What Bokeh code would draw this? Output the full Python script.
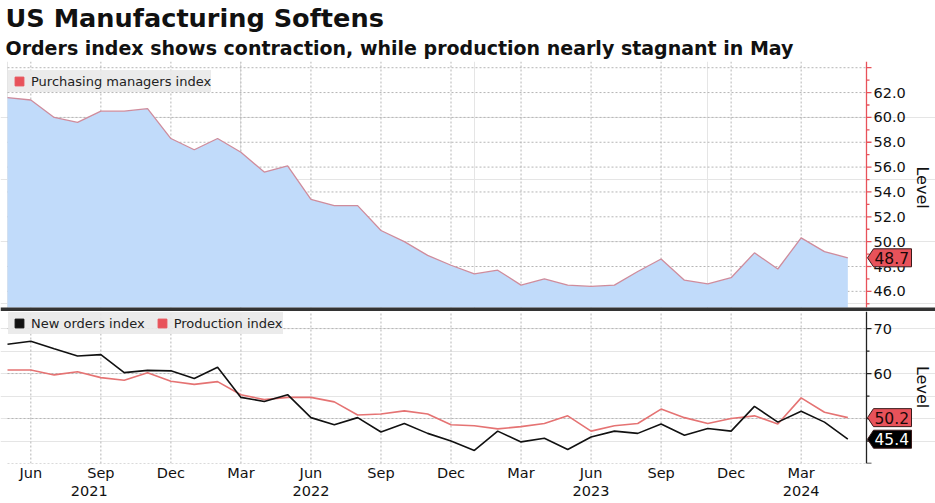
import math
from bokeh.plotting import figure
from bokeh.models import Range1d, FixedTicker, LinearAxis, Legend, LegendItem, Title
from bokeh.core.properties import value
from bokeh.layouts import column
from bokeh.embed import file_html
from bokeh.resources import INLINE

# ---------------- data (monthly, May 2021 .. May 2024) ----------------
months = list(range(37))
pmi = [61.6, 61.4, 60.0, 59.6, 60.5, 60.5, 60.7, 58.3, 57.4, 58.3, 57.2, 55.6, 56.1,
       53.4, 52.9, 52.9, 50.9, 50.0, 48.9, 48.1, 47.4, 47.7, 46.5, 47.0, 46.5, 46.4,
       46.5, 47.6, 48.6, 46.9, 46.6, 47.1, 49.1, 47.8, 50.3, 49.2, 48.7]
new_orders = [66.5, 67.2, 65.5, 63.9, 64.2, 60.2, 60.7, 60.6, 58.9, 61.4, 54.7, 53.8, 55.3,
              50.2, 48.6, 50.2, 47.0, 48.9, 46.7, 45.0, 42.9, 47.2, 44.8, 45.6, 43.1, 45.9,
              47.2, 46.7, 48.8, 46.3, 47.8, 47.2, 52.7, 49.2, 51.6, 49.2, 45.4]
production = [60.8, 60.8, 59.7, 60.4, 59.1, 58.5, 60.2, 58.3, 57.6, 58.2, 55.3, 54.2, 54.7,
              54.7, 53.7, 50.8, 51.0, 51.7, 51.0, 48.6, 48.4, 47.7, 48.2, 48.9, 50.6, 47.2,
              48.4, 48.9, 52.1, 50.2, 48.9, 50.0, 50.6, 48.8, 54.6, 51.4, 50.2]

month_ticks = [1, 4, 7, 10, 13, 16, 19, 22, 25, 28, 31, 34]
month_labels = ["Jun", "Sep", "Dec", "Mar", "Jun", "Sep", "Dec", "Mar", "Jun", "Sep", "Dec", "Mar"]
year_pos = [3.5, 13, 25, 34]
year_labels = ["2021", "2022", "2023", "2024"]

top_ticks = [46, 48, 50, 52, 54, 56, 58, 60, 62, 64]
top_labels = ["46.0", "48.0", "50.0", "52.0", "54.0", "56.0", "58.0", "60.0", "62.0", ""]
top_minor = [45, 47, 49, 51, 53, 55, 57, 59, 61, 63]
bot_ticks = [40, 50, 60, 70]
bot_labels = ["", "50", "60", "70"]
bot_minor = [45, 55, 65]

title_text = "US Manufacturing Softens"
subtitle_text = "Orders index shows contraction, while production nearly stagnant in May"

# ---------------- styles / geometry ----------------
FONT = "DejaVu Sans"
RED = "#e8525a"
AREA = "#c1dbfa"
AREA_LINE = "#cf8c9c"
PROD = "#e57373"
GRID = "#b5b5b5"
SEPC = "#333333"
W = 935            # page / frame width
LB = 7             # left blank strip (pixels)
DW = 859           # data area width (pixels)
XEND = 36.8        # data x at right edge of data area
UX = XEND / DW     # data units per pixel
XR = Range1d(-LB * UX, (W - LB) * UX)
TOP_H, BOT_H = 250, 152
SEP_PX = 4
TOP_PPU = 246 / 19.8          # pixels per unit, top panel
TOP_LO, TOP_HI = 44.7, 64.5
TOP_Y = (TOP_LO - SEP_PX / TOP_PPU, TOP_HI)
BOT_Y = (40.0, 73.8)


def draw_axis(p, lo, hi, ticks, labels, minor, color, level_y):
    p.segment(x0=[0] * len(ticks), y0=ticks, x1=[XEND] * len(ticks), y1=ticks,
              line_color=GRID, line_dash="2 2", line_width=1)
    p.segment(x0=month_ticks, y0=[lo] * len(month_ticks), x1=month_ticks,
              y1=[hi] * len(month_ticks), line_color=GRID, line_dash="2 2", line_width=1)
    p.segment(x0=[XEND], y0=[lo], x1=[XEND], y1=[hi], line_color=color, line_width=1.3)
    p.segment(x0=[XEND] * len(ticks), y0=ticks, x1=[XEND + 5 * UX] * len(ticks), y1=ticks,
              line_color=color, line_width=1.3)
    p.segment(x0=[XEND] * len(minor), y0=minor, x1=[XEND + 3 * UX] * len(minor), y1=minor,
              line_color=color, line_width=1.3)
    p.text(x=[XEND + 7 * UX] * len(ticks), y=ticks, text=labels, text_align="left",
           text_baseline="middle", text_font=value(FONT), text_font_size=value("14.5px"),
           text_color="#111111")
    p.text(x=[XEND + 56 * UX], y=[level_y], text=["Level"], angle=-math.pi / 2,
           text_align="center", text_baseline="middle", text_font=value(FONT),
           text_font_size=value("16px"), text_color="#111111")


def add_tag(p, uy, yval, fill, txt_color):
    hy = 9.0 * uy
    x0 = XEND + 1 * UX
    x1 = XEND + 7 * UX
    x2 = XEND + 45 * UX
    p.patch(x=[x0, x1, x2, x2, x1], y=[yval, yval + hy, yval + hy, yval - hy, yval - hy],
            fill_color=fill, line_color="#3a1a1a", line_width=1)
    p.text(x=[XEND + 8 * UX], y=[yval], text=[f"{yval:.1f}"], text_align="left",
           text_baseline="middle", text_font=value(FONT), text_font_size=value("15.5px"),
           text_color=txt_color)


def legend(items, horizontal, pad, loc):
    return Legend(items=items, location=loc,
                  orientation="horizontal" if horizontal else "vertical",
                  background_fill_color="#e9e9e9", background_fill_alpha=0.9,
                  border_line_color=None, label_text_font=FONT, label_text_font_size="13px",
                  label_text_color="#222222", glyph_width=22, glyph_height=22, padding=pad,
                  margin=0, label_standoff=1, spacing=6, label_height=22)


# ---------------- top panel ----------------
top = figure(frame_width=W, frame_height=TOP_H, x_range=XR, y_range=Range1d(*TOP_Y),
             output_backend="svg", toolbar_location=None, x_axis_location=None,
             y_axis_location=None, min_border_left=0, min_border_right=0,
             min_border_top=0, min_border_bottom=0)
top.outline_line_color = None
draw_axis(top, TOP_LO, TOP_HI, top_ticks, top_labels, top_minor, RED, 54.35)
top.varea(x=months, y1=TOP_LO, y2=pmi, fill_color=AREA)
top.line(months, pmi, line_color=AREA_LINE, line_width=1.3)
add_tag(top, 1 / TOP_PPU, pmi[-1], RED, "#1a0808")
# separator bar along the bottom of the top panel
top.quad(left=[XR.start], right=[XR.end], bottom=[TOP_Y[0]], top=[TOP_LO],
         fill_color=SEPC, line_color=None)

dummy_pmi = top.scatter([1], [-100], marker="square", color=RED, size=9)
leg_top = legend([LegendItem(label="Purchasing managers index", renderers=[dummy_pmi])],
                 False, 5, (8, TOP_H - 5 - 26))
top.add_layout(leg_top)

top.add_layout(Title(text=subtitle_text, text_font=FONT, text_font_size="19px",
                     text_font_style="bold", text_color="#111111", standoff=5, offset=5),
               "above")
top.add_layout(Title(text=title_text, text_font=FONT, text_font_size="25.6px",
                     text_font_style="bold", text_color="#111111", standoff=0, offset=5),
               "above")

# ---------------- bottom panel ----------------
bot = figure(frame_width=W, frame_height=BOT_H, x_range=XR, y_range=Range1d(*BOT_Y),
             output_backend="svg", toolbar_location=None, y_axis_location=None,
             min_border_left=0, min_border_right=0, min_border_top=0, min_border_bottom=0)
bot.outline_line_color = None
bot.xgrid.visible = False
draw_axis(bot, BOT_Y[0], BOT_Y[1], bot_ticks, bot_labels, bot_minor, "#222222", 57.0)
bot.line(months, production, line_color=PROD, line_width=1.6)
bot.line(months, new_orders, line_color="#111111", line_width=1.6)
uy_bot = (BOT_Y[1] - BOT_Y[0]) / BOT_H
add_tag(bot, uy_bot, production[-1], RED, "#1a0808")
add_tag(bot, uy_bot, new_orders[-1], "#000000", "#ffffff")

bxa = bot.xaxis[0]
bxa.ticker = FixedTicker(ticks=month_ticks)
bxa.major_label_overrides = dict(zip(month_ticks, month_labels))
bxa.axis_line_color = None
bxa.major_tick_line_color = None
bxa.minor_tick_line_color = None
bxa.major_tick_out = 0
bxa.major_tick_in = 0
bxa.minor_tick_out = 0
bxa.major_label_standoff = 1
bxa.major_label_text_font = FONT
bxa.major_label_text_font_size = "14.5px"
bxa.major_label_text_color = "#111111"

yax = LinearAxis(ticker=FixedTicker(ticks=year_pos),
                 major_label_overrides=dict(zip(year_pos, year_labels)),
                 axis_line_color=None, major_tick_line_color=None, minor_tick_line_color=None,
                 major_tick_out=0, major_tick_in=0, minor_tick_out=0,
                 major_label_standoff=2, major_label_text_font=FONT,
                 major_label_text_font_size="14.5px", major_label_text_color="#111111")
bot.add_layout(yax, "below")

dummy_no = bot.scatter([1], [-100], marker="square", color="#111111", size=9)
dummy_pr = bot.scatter([1], [-100], marker="square", color=RED, size=9)
leg_bot = legend([LegendItem(label="New orders index", renderers=[dummy_no]),
                  LegendItem(label="Production index", renderers=[dummy_pr])], True, 3,
                 (8, BOT_H - 23))
bot.add_layout(leg_bot)

layout = column(top, bot, spacing=0)
open("out.html", "w").write(file_html(layout, INLINE))
